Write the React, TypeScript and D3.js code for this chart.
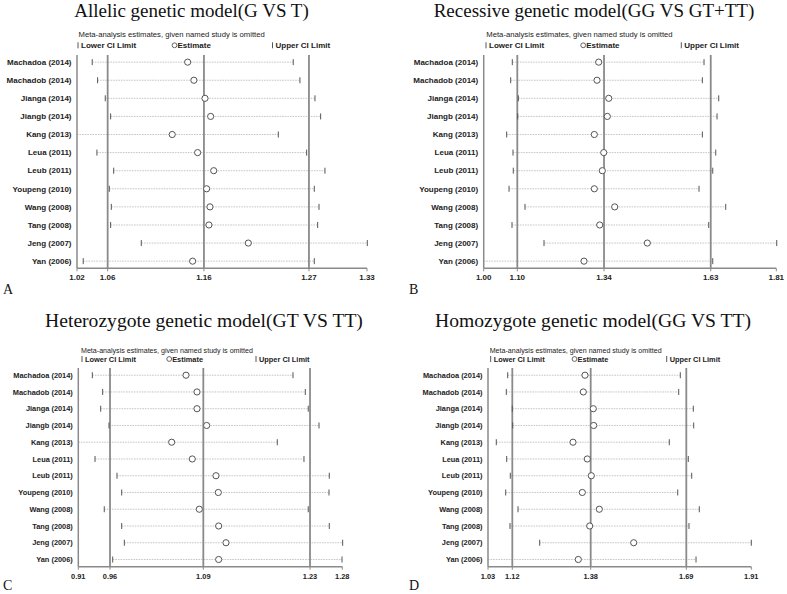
import React from "react";
import * as d3 from "d3";

const studies = [
  "Machadoa (2014)", "Machadob (2014)", "Jianga (2014)", "Jiangb (2014)", "Kang (2013)",
  "Leua (2011)", "Leub (2011)", "Youpeng (2010)", "Wang (2008)", "Tang (2008)", "Jeng (2007)", "Yan (2006)",
];

// A: Allelic
const allelicDomain = [1.028, 1.3307];
const allelicLower = [1.0439, 1.0495, 1.0575, 1.0631, 1.028, 1.0488, 1.0663, 1.0617, 1.0638, 1.0631, 1.0951, 1.0345];
const allelicEst = [1.1435, 1.15, 1.1616, 1.1675, 1.1274, 1.1539, 1.1707, 1.1633, 1.1668, 1.1657, 1.2068, 1.1487];
const allelicUpper = [1.2537, 1.2607, 1.2764, 1.2823, 1.2381, 1.2677, 1.2868, 1.2757, 1.2806, 1.2792, 1.331, 1.2757];
const allelicRefs = [1.06, 1.1605, 1.2701];
const allelicTickLabels = ["1.02", "1.06", "1.16", "1.27", "1.33"];

// B: Recessive
const recessiveDomain = [1.008, 1.81];
const recessiveLower = [1.0864, 1.082, 1.1029, 1.1012, 1.071, 1.0883, 1.0891, 1.0774, 1.1212, 1.0856, 1.1733, 1.008];
const recessiveEst = [1.3232, 1.3186, 1.3507, 1.3468, 1.3112, 1.337, 1.3331, 1.3112, 1.3671, 1.326, 1.4565, 1.2829];
const recessiveUpper = [1.6119, 1.6073, 1.6522, 1.6476, 1.6073, 1.644, 1.6358, 1.5982, 1.6714, 1.6248, 1.8112, 1.6358];
const recessiveRefs = [1.1001, 1.3378, 1.6303];
const recessiveTickLabels = ["1.00", "1.10", "1.34", "1.63", "1.81"];

// C: Heterozygote
const heteroDomain = [0.917, 1.28];
const heteroLower = [0.9363, 0.9505, 0.9478, 0.9592, 0.917, 0.94, 0.9702, 0.9767, 0.9527, 0.9767, 0.9803, 0.9643];
const heteroEst = [1.0651, 1.0802, 1.0802, 1.0935, 1.0454, 1.0737, 1.1063, 1.1095, 1.0834, 1.11, 1.1201, 1.11];
const heteroUpper = [1.2122, 1.2291, 1.2332, 1.248, 1.1906, 1.2273, 1.2621, 1.2617, 1.2332, 1.2621, 1.2805, 1.2796];
const heteroRefs = [0.9606, 1.0889, 1.2356];
const heteroTickLabels = ["0.91", "0.96", "1.09", "1.23", "1.28"];

// D: Homozygote
const homoDomain = [1.037, 1.91];
const homoLower = [1.1023, 1.0977, 1.1176, 1.1189, 1.0645, 1.099, 1.1109, 1.0957, 1.1365, 1.1099, 1.2084, 1.037];
const homoEst = [1.3586, 1.353, 1.3861, 1.3874, 1.3188, 1.3662, 1.3795, 1.3497, 1.406, 1.3742, 1.5201, 1.3364];
const homoUpper = [1.6746, 1.6693, 1.7177, 1.719, 1.6381, 1.7011, 1.7124, 1.666, 1.7376, 1.7034, 1.91, 1.7267];
const homoRefs = [1.1176, 1.3775, 1.6945];
const homoTickLabels = ["1.03", "1.12", "1.38", "1.69", "1.91"];

const titles = [
  "Allelic genetic model(G VS T)",
  "Recessive genetic model(GG VS GT+TT)",
  "Heterozygote genetic model(GT VS TT)",
  "Homozygote genetic model(GG VS TT)",
];
const letters = ["A", "B", "C", "D"];

const data = [
  { domain: allelicDomain, lower: allelicLower, est: allelicEst, upper: allelicUpper, refs: allelicRefs, ticks: allelicTickLabels },
  { domain: recessiveDomain, lower: recessiveLower, est: recessiveEst, upper: recessiveUpper, refs: recessiveRefs, ticks: recessiveTickLabels },
  { domain: heteroDomain, lower: heteroLower, est: heteroEst, upper: heteroUpper, refs: heteroRefs, ticks: heteroTickLabels },
  { domain: homoDomain, lower: homoLower, est: homoEst, upper: homoUpper, refs: homoRefs, ticks: homoTickLabels },
];

// layout
const layouts = [
  { x0: 77, x1: 367, yTop: 55, yBot: 268.3, pad: 0.395, titleX: 191.5, titleY: 17, titleSize: 19, metaX: 78.5, metaY: 37, legY: 48.3, legX: [77, 172, 271.5], letterX: 3, letterY: 294, fs: 8, tickY: 280 },
  { x0: 483.7, x1: 776.3, yTop: 55, yBot: 268.3, pad: 0.395, titleX: 594, titleY: 17, titleSize: 19, metaX: 486.3, metaY: 37, legY: 48.3, legX: [485, 580.7, 680.3], letterX: 409, letterY: 294, fs: 8, tickY: 280 },
  { x0: 78.3, x1: 342.3, yTop: 368, yBot: 566.7, pad: 0.43, titleX: 204, titleY: 327, titleSize: 19.6, metaX: 81, metaY: 353, legY: 362, legX: [81, 166.7, 255], letterX: 3, letterY: 589.5, fs: 7.4, tickY: 579 },
  { x0: 488, x1: 751.3, yTop: 368, yBot: 566.7, pad: 0.43, titleX: 593, titleY: 327, titleSize: 19.6, metaX: 489.7, metaY: 353, legY: 362, legX: [489.7, 572, 665.7], letterX: 409, letterY: 589.5, fs: 7.4, tickY: 579 },
];

const SANS = "'Liberation Sans', Arial, sans-serif";
const SERIF = "'Liberation Serif', 'Times New Roman', serif";
const GRID = "#8a8a8a";
const MARK = "#555";

function Panel({ idx }: { idx: number }) {
  const d = data[idx];
  const L = layouts[idx];
  const x = d3.scaleLinear().domain(d.domain).range([L.x0, L.x1]);
  const y = d3.scalePoint<string>().domain(studies).range([L.yTop, L.yBot]).padding(L.pad);
  const tickVals = [d.domain[0], ...d.refs, d.domain[1]];
  const capH = L.fs * 0.35;
  return (
    <g>
      <text x={L.titleX} y={L.titleY} textAnchor="middle" fontFamily={SERIF} fontSize={L.titleSize} fill="#111">
        {titles[idx]}
      </text>
      <text x={L.metaX} y={L.metaY} fontFamily={SANS} fontSize={L.fs - 0.3} fill="#222">
        Meta-analysis estimates, given named study is omitted
      </text>
      <g fontFamily={SANS} fontSize={L.fs} fontWeight="bold" fill="#222">
        <line x1={L.legX[0] + 1} x2={L.legX[0] + 1} y1={L.legY - 6} y2={L.legY} stroke={MARK} strokeWidth={1} />
        <text x={L.legX[0] + 4} y={L.legY}>Lower CI Limit</text>
        <circle cx={L.legX[1] + 2.5} cy={L.legY - 3} r={2.4} fill="white" stroke={MARK} strokeWidth={0.9} />
        <text x={L.legX[1] + 5.5} y={L.legY}>Estimate</text>
        <line x1={L.legX[2] + 1} x2={L.legX[2] + 1} y1={L.legY - 6} y2={L.legY} stroke={MARK} strokeWidth={1} />
        <text x={L.legX[2] + 4} y={L.legY}>Upper CI Limit</text>
      </g>
      {/* study labels */}
      <g fontFamily={SANS} fontSize={L.fs} fontWeight="bold" fill="#222" textAnchor="end">
        {studies.map((s) => (
          <text key={s} x={L.x0 - 5.5} y={(y(s) as number) + capH}>{s}</text>
        ))}
      </g>
      {/* CI dotted lines */}
      {studies.map((s, i) => (
        <line key={"l" + i} x1={x(d.lower[i])} x2={x(d.upper[i])} y1={y(s)} y2={y(s)}
          stroke="#b8b8b8" strokeWidth={0.8} strokeDasharray="1.6,1" />
      ))}
      {/* reference lines */}
      {d.refs.map((r, i) => (
        <line key={"r" + i} x1={x(r)} x2={x(r)} y1={L.yTop} y2={L.yBot} stroke={GRID} strokeWidth={1.8} />
      ))}
      {/* axes */}
      <line x1={L.x0} x2={L.x0} y1={L.yTop} y2={L.yBot} stroke={GRID} strokeWidth={1.5} />
      <line x1={L.x0} x2={L.x1} y1={L.yBot} y2={L.yBot} stroke={GRID} strokeWidth={1.5} />
      {tickVals.map((t, i) => (
        <g key={"t" + i}>
          <line x1={x(t)} x2={x(t)} y1={L.yBot} y2={L.yBot + 3} stroke={GRID} strokeWidth={1} />
          <text x={x(t)} y={L.tickY} textAnchor="middle" fontFamily={SANS} fontSize={L.fs} fontWeight="bold" fill="#222">
            {d.ticks[i]}
          </text>
        </g>
      ))}
      {/* CI limit ticks and estimates */}
      {studies.map((s, i) => (
        <g key={"m" + i}>
          {d.lower[i] > d.domain[0] + 1e-6 && (
            <line x1={x(d.lower[i])} x2={x(d.lower[i])} y1={(y(s) as number) - 3} y2={(y(s) as number) + 3} stroke={MARK} strokeWidth={1} />
          )}
          <line x1={x(d.upper[i])} x2={x(d.upper[i])} y1={(y(s) as number) - 3} y2={(y(s) as number) + 3} stroke={MARK} strokeWidth={1} />
          <circle cx={x(d.est[i])} cy={y(s)} r={3.1} fill="white" stroke={MARK} strokeWidth={1} />
        </g>
      ))}
      <text x={L.letterX} y={L.letterY} fontFamily={SERIF} fontSize={14} fill="#111">{letters[idx]}</text>
    </g>
  );
}

export default function App() {
  return (
    <svg width={787} height={594} style={{ position: "absolute", left: 0, top: 0, background: "white" }}>
      <rect width={787} height={594} fill="white" />
      {[0, 1, 2, 3].map((i) => (
        <Panel key={i} idx={i} />
      ))}
    </svg>
  );
}
